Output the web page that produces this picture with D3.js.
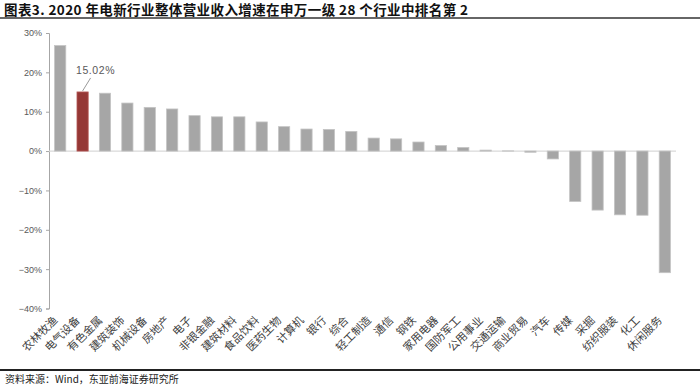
<!DOCTYPE html>
<html>
<head>
<meta charset="utf-8">
<script src="https://cdn.jsdelivr.net/npm/d3@7"></script>
<style>
  body { margin: 0; background: #fff; }
  svg { display: block; }
</style>
</head>
<body>
<div id="chart"></div>
<script>
// industries (SW level-1) and 2020 revenue growth, %
let industries = ["农林牧渔", "电气设备", "有色金属", "建筑装饰", "机械设备", "房地产", "电子",
  "非银金融", "建筑材料", "食品饮料", "医药生物", "计算机", "银行", "综合", "轻工制造", "通信",
  "钢铁", "家用电器", "国防军工", "公用事业", "交通运输", "商业贸易", "汽车", "传媒", "采掘",
  "纺织服装", "化工", "休闲服务"];
let growth = [26.8, 15.02, 14.7, 12.2, 11.1, 10.7, 9.0, 8.7, 8.7, 7.4, 6.2, 5.6, 5.5, 5.0,
  3.3, 3.1, 2.3, 1.4, 0.9, 0.25, 0.05, -0.3, -2.0, -12.8, -15.0, -16.2, -16.3, -30.9];
let yTicks = [30, 20, 10, 0, -10, -20, -30, -40];
let highlight = "电气设备";

let title = "图表3. 2020 年电新行业整体营业收入增速在申万一级 28 个行业中排名第 2";
let source = "资料来源：Wind，东亚前海证券研究所";

let width = 700, height = 386;

let svg = d3.select("#chart").append("svg")
  .attr("width", width)
  .attr("height", height);

// title + rules
svg.append("text")
  .attr("x", 4).attr("y", 15)
  .attr("font-family", "Noto Sans CJK SC")
  .attr("font-weight", "bold")
  .attr("font-size", 13.5)
  .attr("textLength", 464)
  .attr("fill", "#111")
  .text(title);
svg.append("line")
  .attr("x1", 0).attr("x2", width).attr("y1", 18).attr("y2", 18)
  .attr("stroke", "#333").attr("stroke-width", 1.5);
svg.append("line")
  .attr("x1", 0).attr("x2", width).attr("y1", 370).attr("y2", 370)
  .attr("stroke", "#222").attr("stroke-width", 2);
svg.append("text")
  .attr("x", 5).attr("y", 383)
  .attr("font-family", "Noto Sans CJK SC")
  .attr("font-size", 10)
  .attr("fill", "#222")
  .text(source);

let x = d3.scaleBand().domain(industries).range([49, 676]).paddingInner(0.5).paddingOuter(0.25);
let y = d3.scaleLinear().domain([-40, 30]).range([308.5, 33]);

// y axis
let yAxis = svg.append("g")
  .attr("transform", "translate(49,0)")
  .call(d3.axisLeft(y).tickValues(yTicks).tickSize(3).tickFormat(d => d + "%"));
yAxis.select(".domain").attr("stroke", "#a6a6a6");
yAxis.selectAll(".tick line").attr("stroke", "#a6a6a6");
yAxis.selectAll(".tick text")
  .attr("font-family", "Liberation Sans, Arial, sans-serif")
  .attr("font-size", 9)
  .attr("fill", "#595959")
  .attr("x", -7)
  .text(d => (d < 0 ? "\u2212" + (-d) : d) + "%");

// zero line
svg.append("line")
  .attr("x1", 49).attr("x2", 676)
  .attr("y1", y(0)).attr("y2", y(0))
  .attr("stroke", "#d9d9d9").attr("stroke-width", 1.2);

// bars
svg.append("g").selectAll("rect")
  .data(industries)
  .enter()
  .append("rect")
  .attr("x", d => x(d))
  .attr("width", x.bandwidth())
  .attr("y", (d, i) => y(Math.max(0, growth[i])))
  .attr("height", (d, i) => Math.abs(y(growth[i]) - y(0)))
  .attr("fill", d => d === highlight ? "#953735" : "#a6a6a6")
  .attr("stroke", d => d === highlight ? "#b75a58" : "#c4c4c4")
  .attr("stroke-width", 0.8);

// data label for highlight
let hi = industries.indexOf(highlight);
let hx = x(highlight) + x.bandwidth() / 2;
svg.append("line")
  .attr("x1", hx).attr("y1", y(growth[hi]) - 1)
  .attr("x2", hx + 8).attr("y2", y(growth[hi]) - 14)
  .attr("stroke", "#7f7f7f").attr("stroke-width", 0.8);
svg.append("text")
  .attr("x", hx + 13).attr("y", y(growth[hi]) - 18)
  .attr("text-anchor", "middle")
  .attr("font-family", "Liberation Sans, Arial, sans-serif")
  .attr("font-size", 10.5)
  .attr("letter-spacing", 0.6)
  .attr("fill", "#595959")
  .text(growth[hi].toFixed(2) + "%");

// category labels
svg.append("g").selectAll("text")
  .data(industries)
  .enter()
  .append("text")
  .attr("transform", d => "translate(" + (x(d) + x.bandwidth() / 2 - 2) + ",321) rotate(-45)")
  .attr("text-anchor", "end")
  .attr("font-family", "Noto Sans CJK SC")
  .attr("font-size", 11)
  .attr("fill", "#404040")
  .text(d => d);
</script>
</body>
</html>
